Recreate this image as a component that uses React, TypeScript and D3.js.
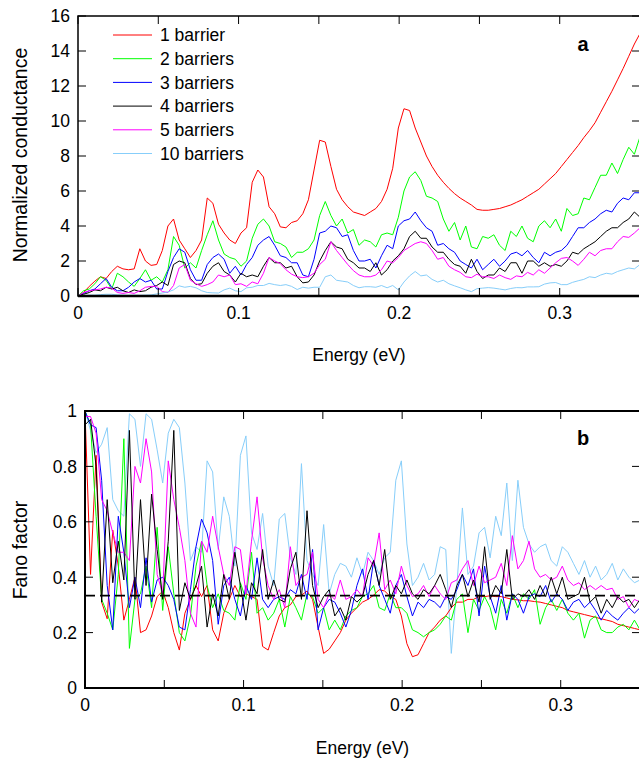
import React, { useEffect, useRef } from "react";
import * as d3 from "d3";

// series names and colours (gnuplot default-ish)
const seriesNames = ["1 barrier", "2 barriers", "3 barriers", "4 barriers", "5 barriers", "10 barriers"];
const seriesColors = ["#ff0000", "#00ff00", "#0000ff", "#000000", "#ff00ff", "#87cefa"];

// energy grid, 0 .. 0.35 eV in 0.0035 eV steps (101 points)
const energy = d3.range(101).map(i => +(i * 0.0035).toFixed(4));

// panel a: normalized conductance
const cond1 = [0, 0.2, 0.55, 0.85, 1.1, 1.0, 1.4, 1.7, 1.55, 1.5, 1.55, 2.7, 2.0, 1.75, 1.8, 2.6, 4.0, 4.4, 3.2, 2.7,
  2.2, 2.6, 3.2, 5.6, 5.3, 4.1, 3.6, 3.2, 3.0, 3.6, 3.9, 6.5, 7.2, 6.8, 5.1, 4.7, 3.95, 3.9, 4.2, 4.3,
  4.7, 5.5, 7.2, 8.9, 8.8, 7.4, 6.1, 5.5, 5.1, 4.8, 4.7, 4.6, 4.8, 5.0, 5.4, 6.1, 7.3, 9.6, 10.7, 10.6,
  9.6, 8.8, 8.0, 7.4, 6.9, 6.5, 6.15, 5.85, 5.6, 5.4, 5.2, 4.95, 4.9, 4.9, 4.95, 5.0, 5.1, 5.2, 5.35, 5.5,
  5.7, 5.9, 6.1, 6.4, 6.7, 7.0, 7.4, 7.8, 8.2, 8.6, 9.05, 9.45, 9.9, 10.5, 11.1, 11.7, 12.35, 13.0, 13.7, 14.4, 15.0];
const cond2 = [0, 0.3, 0.4, 0.7, 1.1, 0.9, 0.4, 1.3, 1.1, 0.8, 0.55, 1.0, 1.5, 0.9, 1.1, 0.8, 1.5, 3.4, 2.9, 1.6,
  1.9, 1.6, 2.6, 3.5, 4.3, 3.2, 2.4, 2.2, 2.1, 1.7, 2.0, 3.3, 4.1, 4.4, 4.0, 3.1, 3.0, 2.8, 2.2, 2.5,
  2.5, 2.7, 3.2, 4.6, 5.4, 4.6, 4.0, 4.4, 3.6, 3.8, 2.9, 3.2, 3.1, 2.8, 3.5, 3.6, 3.5, 4.5, 6.0, 6.8,
  7.1, 6.6, 5.7, 5.6, 5.4, 4.4, 3.7, 4.2, 3.2, 4.0, 2.8, 2.7, 3.4, 3.3, 3.5, 2.9, 2.6, 3.7, 3.4, 4.0,
  3.3, 3.1, 4.0, 4.3, 3.9, 4.4, 3.7, 5.0, 4.6, 4.7, 5.6, 5.5, 6.2, 6.9, 6.9, 7.6, 7.0, 7.8, 8.5, 8.1, 9.1];
const cond3 = [0, 0.15, 0.3, 0.4, 0.7, 1.0, 0.5, 0.3, 0.3, 0.5, 0.8, 1.0, 0.8, 0.9, 0.4, 0.4, 1.4, 2.2, 2.7, 2.5,
  1.5, 0.9, 0.9, 1.8, 2.2, 2.4, 2.1, 1.3, 1.7, 1.2, 1.8, 2.2, 2.9, 3.2, 3.4, 2.9, 2.3, 2.2, 1.9, 1.9,
  1.2, 1.1, 2.1, 3.6, 3.7, 4.0, 3.9, 3.4, 3.5, 2.6, 2.0, 2.0, 2.1, 1.6, 2.3, 2.9, 2.7, 4.0, 4.3, 4.4,
  4.8, 4.3, 3.9, 3.7, 2.9, 3.0, 2.7, 2.5, 2.0, 1.8, 1.6, 2.1, 1.5, 1.8, 2.1, 1.7, 2.0, 2.4, 2.5, 2.3,
  2.6, 2.2, 1.9, 2.5, 2.3, 2.5, 2.6, 2.9, 3.4, 3.9, 3.9, 4.2, 4.4, 4.7, 4.9, 4.8, 5.3, 5.6, 5.5, 5.9, 5.9];
const cond4 = [0, 0.1, 0.2, 0.35, 0.3, 0.5, 0.4, 0.5, 0.3, 0.2, 0.35, 0.25, 0.3, 0.5, 0.6, 0.8, 0.6, 1.8, 2.0, 1.9,
  1.0, 0.65, 0.7, 1.3, 1.7, 1.9, 1.4, 1.2, 0.8, 1.3, 1.1, 1.2, 1.1, 1.7, 2.2, 1.9, 1.9, 1.6, 1.7, 1.1,
  0.75, 0.8, 1.2, 2.0, 2.6, 3.1, 2.8, 2.7, 2.1, 1.9, 1.6, 1.6, 1.4, 1.9, 1.2, 1.5, 2.0, 2.3, 2.7, 3.4,
  3.7, 3.3, 3.3, 2.8, 2.5, 2.5, 2.1, 1.8, 1.7, 1.3, 2.1, 1.4, 1.0, 1.2, 1.2, 1.6, 1.4, 1.9, 1.9, 1.3,
  2.0, 2.0, 1.7, 1.9, 1.7, 1.8, 1.7, 2.0, 2.5, 2.4, 2.7, 2.9, 3.1, 3.4, 3.7, 3.9, 3.9, 4.2, 4.4, 4.8, 4.5];
const cond5 = [0, 0.2, 0.3, 0.35, 0.4, 0.5, 0.45, 0.2, 0.15, 0.2, 0.15, 0.3, 0.5, 0.55, 0.55, 0.25, 0.2, 0.6, 1.6, 1.8,
  0.9, 0.7, 0.55, 0.65, 0.8, 1.2, 1.1, 1.2, 0.65, 0.7, 0.55, 0.8, 0.7, 1.3, 2.2, 2.0, 1.85, 1.5, 1.25, 1.1,
  1.05, 1.1, 1.3, 1.8, 2.1, 3.1, 2.6, 2.2, 1.8, 1.45, 1.2, 1.1, 1.1, 1.2, 1.5, 2.0, 1.9, 2.2, 2.6, 2.8,
  3.0, 3.1, 3.0, 2.6, 2.1, 2.2, 1.7, 1.5, 1.35, 1.1, 1.05, 1.25, 1.1, 1.1, 1.0, 1.2, 1.05, 0.95, 1.15, 1.1,
  1.35, 1.2, 1.5, 1.3, 1.6, 1.9, 2.15, 2.2, 2.0, 1.75, 2.1, 2.5, 2.3, 2.6, 2.7, 2.7, 3.1, 3.4, 3.35, 3.6, 3.9];
const cond10 = [0, 0.02, 0.05, 0.05, 0.08, 0.1, 0.1, 0.06, 0.05, 0.04, 0.05, 0.04, 0.05, 0.06, 0.12, 0.17, 0.23, 0.35, 0.58, 0.5,
  0.55, 0.47, 0.3, 0.2, 0.18, 0.17, 0.35, 0.45, 0.3, 0.25, 0.47, 0.5, 0.6, 0.6, 0.72, 0.65, 0.6, 0.65, 0.55, 0.37,
  0.5, 0.45, 0.5, 0.5, 1.1, 1.2, 0.9, 0.85, 0.8, 0.6, 0.47, 0.53, 0.53, 0.5, 0.6, 0.47, 0.6, 0.35, 0.8, 1.15,
  1.4, 1.15, 1.2, 0.95, 0.8, 0.9, 0.7, 0.58, 0.47, 0.35, 0.25, 0.42, 0.45, 0.48, 0.45, 0.4, 0.35, 0.43, 0.48, 0.47,
  0.52, 0.52, 0.53, 0.68, 0.75, 0.77, 0.65, 0.65, 0.78, 0.87, 0.95, 1.1, 1.05, 1.2, 1.3, 1.25, 1.4, 1.5, 1.6, 1.55, 1.8];

// panel b: Fano factor
const fano1 = [1.0, 0.41, 0.84, 0.31, 0.25, 0.57, 0.44, 0.245, 0.32, 0.4, 0.2, 0.21, 0.26, 0.33, 0.35, 0.29, 0.2, 0.137, 0.27, 0.32,
  0.37, 0.33, 0.37, 0.21, 0.17, 0.27, 0.32, 0.37, 0.33, 0.34, 0.33, 0.32, 0.15, 0.137, 0.2, 0.26, 0.29, 0.3, 0.33, 0.335,
  0.35, 0.32, 0.22, 0.125, 0.14, 0.17, 0.2, 0.245, 0.27, 0.29, 0.31, 0.32, 0.335, 0.355, 0.35, 0.33, 0.32, 0.26, 0.16, 0.113,
  0.12, 0.16, 0.2, 0.22, 0.245, 0.26, 0.29, 0.31, 0.31, 0.32, 0.32, 0.33, 0.33, 0.333, 0.33, 0.33, 0.325, 0.32, 0.318, 0.315,
  0.315, 0.312, 0.31, 0.305, 0.3, 0.295, 0.29, 0.28, 0.275, 0.27, 0.265, 0.26, 0.255, 0.25, 0.245, 0.24, 0.23, 0.225, 0.22, 0.215, 0.21];
const fano2 = [1.0, 0.95, 0.62, 0.32, 0.27, 0.21, 0.41, 0.9, 0.143, 0.32, 0.34, 0.44, 0.29, 0.58, 0.28, 0.51, 0.34, 0.2, 0.17, 0.26,
  0.44, 0.53, 0.37, 0.29, 0.34, 0.28, 0.27, 0.245, 0.38, 0.32, 0.49, 0.27, 0.29, 0.245, 0.27, 0.32, 0.22, 0.33, 0.29, 0.245,
  0.34, 0.33, 0.27, 0.29, 0.21, 0.245, 0.21, 0.26, 0.28, 0.29, 0.33, 0.34, 0.37, 0.29, 0.28, 0.34, 0.29, 0.29, 0.27, 0.21,
  0.2, 0.185, 0.2, 0.21, 0.23, 0.26, 0.245, 0.32, 0.34, 0.2, 0.32, 0.28, 0.33, 0.29, 0.21, 0.32, 0.27, 0.34, 0.29, 0.34,
  0.32, 0.355, 0.23, 0.29, 0.32, 0.28, 0.32, 0.27, 0.245, 0.27, 0.18, 0.245, 0.26, 0.21, 0.2, 0.2, 0.22, 0.23, 0.21, 0.245, 0.21];
const fano3 = [1.0, 0.95, 0.94, 0.75, 0.37, 0.21, 0.62, 0.49, 0.29, 0.4, 0.29, 0.47, 0.31, 0.39, 0.4, 0.37, 0.32, 0.22, 0.21, 0.355,
  0.51, 0.61, 0.56, 0.46, 0.23, 0.37, 0.4, 0.32, 0.26, 0.37, 0.32, 0.47, 0.32, 0.29, 0.32, 0.33, 0.32, 0.355, 0.34, 0.41,
  0.32, 0.5, 0.21, 0.29, 0.32, 0.31, 0.27, 0.22, 0.28, 0.37, 0.43, 0.32, 0.46, 0.37, 0.32, 0.27, 0.37, 0.41, 0.33, 0.26,
  0.31, 0.29, 0.32, 0.31, 0.29, 0.33, 0.32, 0.355, 0.41, 0.37, 0.43, 0.26, 0.44, 0.33, 0.27, 0.37, 0.245, 0.34, 0.32, 0.27,
  0.33, 0.34, 0.33, 0.37, 0.31, 0.34, 0.32, 0.28, 0.31, 0.32, 0.29, 0.31, 0.28, 0.245, 0.28, 0.26, 0.245, 0.27, 0.29, 0.27, 0.29];
const fano4 = [0.95, 0.97, 0.8, 0.31, 0.68, 0.38, 0.53, 0.39, 0.93, 0.32, 0.68, 0.37, 0.7, 0.5, 0.32, 0.53, 0.93, 0.28, 0.38, 0.32,
  0.37, 0.44, 0.22, 0.34, 0.26, 0.41, 0.32, 0.49, 0.37, 0.245, 0.38, 0.34, 0.5, 0.32, 0.39, 0.32, 0.31, 0.43, 0.49, 0.32,
  0.64, 0.37, 0.29, 0.33, 0.355, 0.26, 0.29, 0.245, 0.33, 0.31, 0.33, 0.41, 0.46, 0.37, 0.5, 0.32, 0.37, 0.34, 0.39, 0.34,
  0.32, 0.355, 0.34, 0.37, 0.41, 0.355, 0.29, 0.37, 0.41, 0.33, 0.39, 0.31, 0.51, 0.32, 0.37, 0.34, 0.5, 0.32, 0.34, 0.33,
  0.355, 0.32, 0.37, 0.33, 0.4, 0.34, 0.4, 0.32, 0.33, 0.34, 0.4, 0.31, 0.33, 0.27, 0.32, 0.29, 0.33, 0.31, 0.32, 0.29, 0.32];
const fano5 = [0.98, 0.98, 0.92, 0.68, 0.64, 0.56, 0.49, 0.49, 0.46, 0.8, 0.74, 0.9, 0.78, 0.41, 0.34, 0.82, 0.68, 0.58, 0.46, 0.27,
  0.22, 0.53, 0.49, 0.62, 0.51, 0.41, 0.37, 0.51, 0.5, 0.34, 0.53, 0.69, 0.47, 0.37, 0.32, 0.355, 0.29, 0.51, 0.37, 0.4,
  0.41, 0.49, 0.32, 0.29, 0.34, 0.32, 0.39, 0.32, 0.33, 0.355, 0.33, 0.47, 0.44, 0.56, 0.355, 0.39, 0.34, 0.44, 0.37, 0.33,
  0.34, 0.37, 0.33, 0.37, 0.34, 0.32, 0.38, 0.39, 0.43, 0.46, 0.37, 0.44, 0.38, 0.39, 0.4, 0.45, 0.37, 0.55, 0.43, 0.46,
  0.53, 0.43, 0.4, 0.41, 0.39, 0.4, 0.44, 0.39, 0.37, 0.38, 0.355, 0.37, 0.355, 0.37, 0.355, 0.36, 0.32, 0.33, 0.29, 0.32, 0.31];
const fano10 = [1.0, 0.93, 0.85, 0.88, 0.94, 0.68, 0.64, 0.62, 0.99, 0.97, 0.8, 0.99, 0.97, 0.86, 0.74, 0.92, 0.97, 0.94, 0.74, 0.46,
  0.51, 0.49, 0.82, 0.78, 0.5, 0.69, 0.62, 0.44, 0.84, 0.91, 0.56, 0.5, 0.63, 0.44, 0.37, 0.61, 0.63, 0.47, 0.41, 0.81,
  0.46, 0.41, 0.37, 0.59, 0.34, 0.41, 0.45, 0.44, 0.4, 0.47, 0.41, 0.49, 0.46, 0.41, 0.47, 0.49, 0.75, 0.82, 0.52, 0.37,
  0.4, 0.45, 0.39, 0.41, 0.51, 0.5, 0.125, 0.37, 0.65, 0.41, 0.44, 0.56, 0.58, 0.47, 0.62, 0.55, 0.74, 0.46, 0.75, 0.58,
  0.52, 0.49, 0.51, 0.52, 0.46, 0.44, 0.51, 0.49, 0.45, 0.41, 0.46, 0.4, 0.44, 0.39, 0.41, 0.45, 0.39, 0.43, 0.4, 0.38, 0.39];

const condSeries = [cond1, cond2, cond3, cond4, cond5, cond10];
const fanoSeries = [fano1, fano2, fano3, fano4, fano5, fano10];

const xTickLabels = [0, 0.1, 0.2, 0.3];
const condTicks = [0, 2, 4, 6, 8, 10, 12, 14, 16];
const fanoTicks = [0, 0.2, 0.4, 0.6, 0.8, 1];

const FONT = "'Liberation Sans', Arial, Helvetica, sans-serif";

const App = () => {
  const ref = useRef<SVGSVGElement>(null);

  useEffect(() => {
    const svg = d3.select(ref.current);
    svg.selectAll("*").remove();

    const drawPanel = (opts: any) => {
      const { id, x, y, yTicks, yFormat, series, order, yTitle, yTitleY, xTitleY, letter, frameW, bottomW } = opts;
      const [x0, x1] = x.range();
      const [y0, y1] = y.range(); // y0 bottom, y1 top
      const g = svg.append("g");

      g.append("clipPath").attr("id", id)
        .append("rect").attr("x", x0).attr("y", y1).attr("width", x1 - x0).attr("height", y0 - y1);

      // data lines
      const line = d3.line<number>()
        .x((_, i) => x(energy[i]))
        .y(d => y(d));
      const lines = g.append("g").attr("clip-path", `url(#${id})`).attr("fill", "none");
      order.forEach((k: number) => {
        lines.append("path")
          .attr("d", line(series[k]))
          .attr("stroke", seriesColors[k])
          .attr("stroke-width", 1)
          .attr("stroke-linejoin", "round");
      });

      if (opts.fanoLine) {
        g.append("line")
          .attr("x1", x0).attr("x2", x1)
          .attr("y1", y(1 / 3)).attr("y2", y(1 / 3))
          .attr("stroke", "#000").attr("stroke-width", 1.6)
          .attr("stroke-dasharray", "10,5");
      }

      // frame
      g.append("rect")
        .attr("x", x0).attr("y", y1).attr("width", x1 - x0).attr("height", y0 - y1)
        .attr("fill", "none").attr("stroke", "#000").attr("stroke-width", frameW);
      g.append("line")
        .attr("x1", x0).attr("x2", x1).attr("y1", y0).attr("y2", y0)
        .attr("stroke", "#000").attr("stroke-width", bottomW);

      // ticks (inward on all four sides)
      const tl = 8;
      const xt = d3.range(0, 0.3501, 0.05);
      xt.forEach(t => {
        g.append("line").attr("x1", x(t)).attr("x2", x(t)).attr("y1", y0).attr("y2", y0 - tl)
          .attr("stroke", "#000").attr("stroke-width", 1);
        g.append("line").attr("x1", x(t)).attr("x2", x(t)).attr("y1", y1).attr("y2", y1 + tl)
          .attr("stroke", "#000").attr("stroke-width", 1);
      });
      yTicks.forEach((t: number) => {
        g.append("line").attr("x1", x0).attr("x2", x0 + tl).attr("y1", y(t)).attr("y2", y(t))
          .attr("stroke", "#000").attr("stroke-width", 1);
        g.append("line").attr("x1", x1 - tl).attr("x2", x1).attr("y1", y(t)).attr("y2", y(t))
          .attr("stroke", "#000").attr("stroke-width", 1);
      });

      // tick labels
      const txt = g.append("g").style("font-family", FONT).style("font-size", "17.5px").attr("fill", "#000");
      yTicks.forEach((t: number) => {
        txt.append("text").attr("x", x0 - 8).attr("y", y(t)).attr("dy", "0.36em")
          .attr("text-anchor", "end").text(yFormat(t));
      });
      xTickLabels.forEach(t => {
        txt.append("text").attr("x", x(t)).attr("y", y0 + 23)
          .attr("text-anchor", "middle").text(t === 0 ? "0" : String(t));
      });

      // titles
      txt.append("text").attr("x", (x0 + x1) / 2).attr("y", xTitleY)
        .attr("text-anchor", "middle").text("Energy (eV)");
      txt.append("text")
        .attr("transform", `translate(27,${yTitleY}) rotate(-90)`)
        .attr("text-anchor", "middle").style("font-size", "19.5px").text(yTitle);
      txt.append("text").attr("x", letter[0]).attr("y", letter[1])
        .attr("text-anchor", "middle").style("font-size", "20px").style("font-weight", "bold").text(letter[2]);
      return g;
    };

    // panel a
    const xa = d3.scaleLinear().domain([0, 0.35]).range([78, 640]);
    const ya = d3.scaleLinear().domain([0, 16]).range([296, 16]);
    drawPanel({
      id: "clipA", x: xa, y: ya, yTicks: condTicks, yFormat: (t: number) => String(t),
      series: condSeries, order: [0, 1, 2, 3, 4, 5],
      yTitle: "Normalized conductance", yTitleY: 155, xTitleY: 361,
      letter: [583, 51, "a"], frameW: 1.5, bottomW: 2.5
    });

    // legend
    const leg = svg.append("g").style("font-family", FONT).style("font-size", "17.5px");
    seriesNames.forEach((name, k) => {
      const ly = 35 + k * 23.7;
      leg.append("line").attr("x1", 113).attr("x2", 152).attr("y1", ly).attr("y2", ly)
        .attr("stroke", seriesColors[k]).attr("stroke-width", 1);
      leg.append("text").attr("x", 160).attr("y", ly).attr("dy", "0.36em").text(name);
    });

    // panel b
    const xb = d3.scaleLinear().domain([0, 0.35]).range([85, 640]);
    const yb = d3.scaleLinear().domain([0, 1]).range([688, 411]);
    drawPanel({
      id: "clipB", x: xb, y: yb, yTicks: fanoTicks, yFormat: (t: number) => (t === 0 || t === 1 ? String(t) : t.toFixed(1)),
      series: fanoSeries, order: [5, 0, 1, 2, 4, 3],
      yTitle: "Fano factor", yTitleY: 550, xTitleY: 754,
      letter: [583, 445, "b"], frameW: 2, bottomW: 2, fanoLine: true
    });
  }, []);

  return (
    <div style={{ position: "absolute", left: 0, top: 0 }}>
      <svg ref={ref} width={639} height={762} style={{ display: "block", background: "#fff" }} />
    </div>
  );
};

export default App;
